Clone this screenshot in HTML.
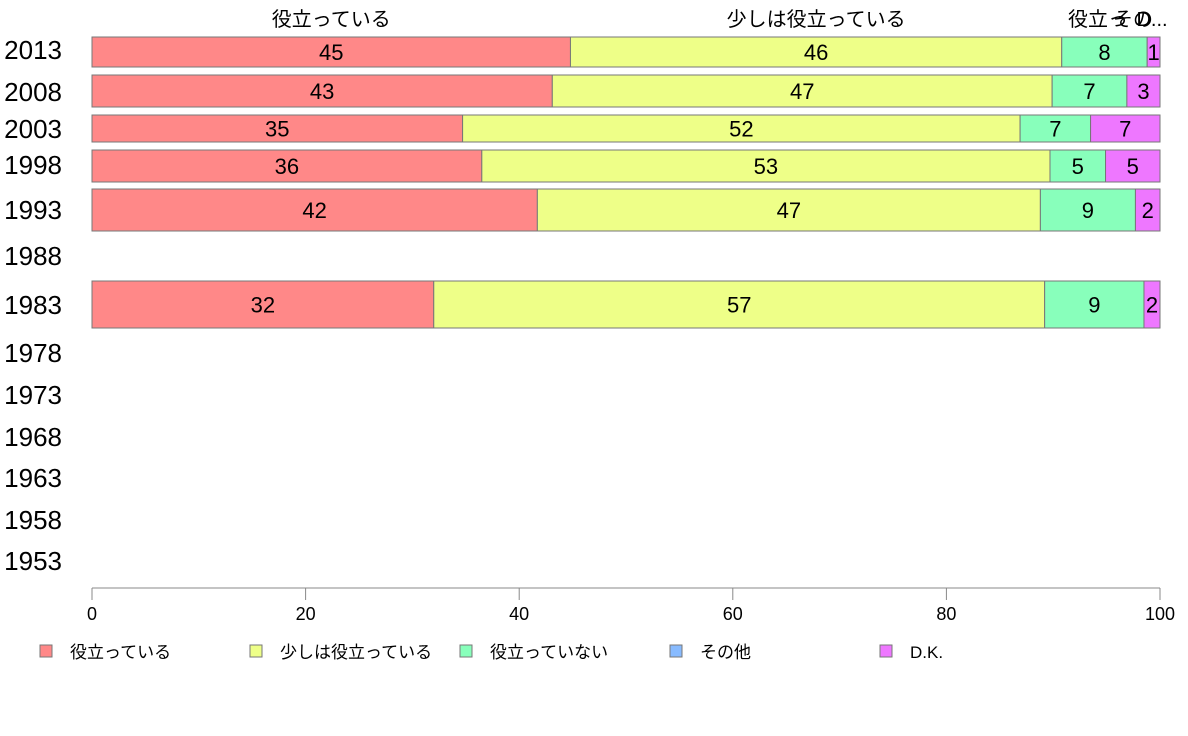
<!DOCTYPE html>
<html><head><meta charset="utf-8"><style>
html,body{margin:0;padding:0;background:#fff;width:1188px;height:736px;overflow:hidden}
svg{display:block;font-family:"Liberation Sans","Noto Sans CJK JP",sans-serif}
</style></head><body>
<svg id="chart" width="1188" height="736" viewBox="0 0 1188 736"></svg>
<script>
const years=["2013","2008","2003","1998","1993","1988","1983","1978","1973","1968","1963","1958","1953"];
const labelY=[50,92,129,165,210,256,305,353,395,437,478,520,561];
const barTop=[37,75,115,150,189,null,281];
const barBot=[67,107,142,182,231,null,328];
const seriesNames=["役立っている","少しは役立っている","役立っていない","その他","D.K."];
const colors=["#ff8888","#eeff88","#88ffbb","#88bbff","#ee77ff"];
const s1=[44.8,43.1,34.7,36.5,41.7,null,32.0];
const s2=[46.0,46.8,52.2,53.2,47.1,null,57.2];
const s3=[8.0,7.0,6.6,5.2,8.9,null,9.3];
const s4=[0,0,0,0,0,null,0];
const s5=[1.2,3.1,6.5,5.1,2.3,null,1.5];
const printed=[[45,46,8,null,1],[43,47,7,null,3],[35,52,7,null,7],[36,53,5,null,5],[42,47,9,null,2],null,[32,57,9,null,2]];
const ticks=[0,20,40,60,80,100];
const svg=document.getElementById('chart');
const NS='http://www.w3.org/2000/svg';
const x=v=>92+v*10.68;
function mk(t,a,txt){const e=document.createElementNS(NS,t);for(const k in a)e.setAttribute(k,a[k]);if(txt!=null)e.textContent=txt;svg.appendChild(e);return e;}
const series=[s1,s2,s3,s4,s5];
for(let i=0;i<years.length;i++){
  const t=mk('text',{x:62,y:labelY[i]+9,'font-size':26,'text-anchor':'end',fill:'#000'},years[i]);
  
  
  if(i>=barTop.length||barTop[i]==null)continue;
  let acc=0;
  for(let s=0;s<5;s++){
    const v=series[s][i];
    const r=mk('rect',{x:x(acc),y:barTop[i],width:x(acc+v)-x(acc),height:barBot[i]-barTop[i],fill:colors[s],stroke:'#777','stroke-width':1});
    
    
    const p=printed[i][s];
    if(p!=null&&v>0){
      const tt=mk('text',{x:(x(acc)+x(acc+v))/2,y:(barTop[i]+barBot[i])/2+8,'font-size':22,'text-anchor':'middle',fill:'#000'},String(p));
      
      
    }
    acc+=v;
  }
}
// top category labels centered on first row segments
const topText=["役立っている","少しは役立っている","役立っ","その","D..."];
let acc0=0;const centers=[];
for(let s=0;s<5;s++){const v=series[s][0];centers.push((x(acc0)+x(acc0+v))/2);acc0+=v;}
const topX=[centers[0],centers[1],1098,1133,1152];
for(let s=0;s<5;s++){
  const t=mk('text',{x:topX[s],y:26,'font-size':20,'text-anchor':'middle',fill:'#000'},topText[s]);
  
  
}
// axis
const ax=mk('line',{x1:92,y1:588,x2:1160,y2:588,stroke:'#888','stroke-width':1});


for(const v of ticks){
  const l=mk('line',{x1:x(v),y1:588,x2:x(v),y2:600,stroke:'#888','stroke-width':1});
  
  
  const t=mk('text',{x:x(v),y:620,'font-size':18,'text-anchor':'middle',fill:'#000'},String(v));
  
  
}
// legend
for(let s=0;s<5;s++){
  const lx=40+s*210;
  const r=mk('rect',{x:lx,y:645,width:12,height:12,fill:colors[s],stroke:'#777','stroke-width':1});
  
  
  const t=mk('text',{x:lx+30,y:658,'font-size':17,fill:'#000'},seriesNames[s]);
  
  
}
</script>
</body></html>
